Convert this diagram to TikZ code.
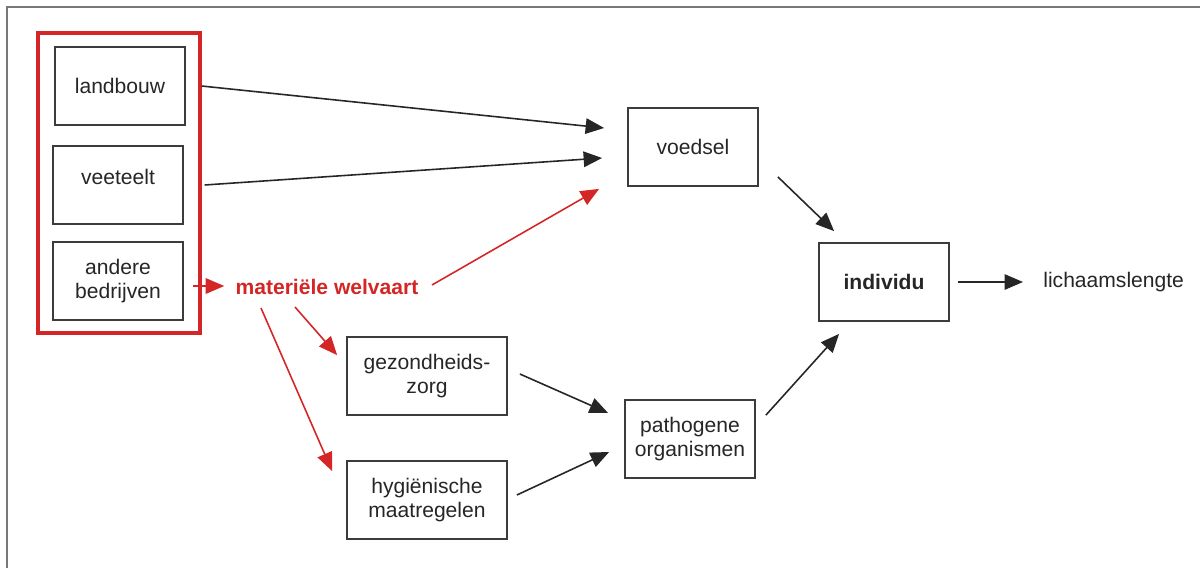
\documentclass[tikz,border=0pt]{standalone}
\usepackage{fontspec}
\setmainfont{Liberation Sans}
\usepackage{xcolor}
\usepackage{tikz}
\usetikzlibrary{arrows.meta,positioning}

\definecolor{welvaartred}{RGB}{212,38,38}
\definecolor{boxgray}{RGB}{60,60,60}
\definecolor{framegray}{RGB}{120,120,120}

\begin{document}
\begin{tikzpicture}[
    x=0.02cm, y=-0.02cm,
    font=\fontsize{12}{13.6}\selectfont,
    box/.style={rectangle, draw=boxgray, line width=1pt, text=black!85, align=center, minimum width=2.6cm, minimum height=1.56cm, inner sep=0pt},
    group/.style={rectangle, draw=welvaartred, line width=1.8pt, minimum width=3.24cm, minimum height=6cm},
    conn/.style={color=black!85, line width=0.9pt, -{Triangle[length=0.37cm, width=0.31cm]}},
    redconn/.style={conn, color=welvaartred}
]

\useasboundingbox (0,0) rectangle (1200,568);
\draw[framegray, line width=1.2pt] (7,568) -- (7,7) -- (1200,7);

\node[group] (sectors) at (119,183) {};
\node[box] (landbouw) at (120,86) {landbouw};
\node[box] (veeteelt) at (118,185) {\raisebox{9pt}{veeteelt}};
\node[box] (andere) at (118,281) {andere\\bedrijven};

\node[inner sep=0pt, text=welvaartred, font=\fontsize{12}{13.6}\selectfont\bfseries] (welvaart) at (327,287) {materiële welvaart};

\node[box, minimum width=3.2cm] (gezondheid) at (427,376) {gezondheids-\\zorg};
\node[box, minimum width=3.2cm] (hygiene) at (427,500) {hygiënische\\maatregelen};

\node[box] (voedsel) at (693,147) {voedsel};
\node[box] (pathogeen) at (690,439) {pathogene\\organismen};

\node[box, font=\fontsize{12}{13.6}\selectfont\bfseries] (individu) at (884,282) {individu};
\node[inner sep=0pt, anchor=west, text=black!85] (lengte) at (1043,282) {lichaamslengte};

\draw[conn] (landbouw.east -| sectors.east) -- ([shift={(-23,-19)}]voedsel.west);
\draw[conn] ([shift={(3,0)}]veeteelt.east -| sectors.east) -- ([shift={(-25,11)}]voedsel.west);

\draw[redconn] ([shift={(9,5)}]andere.east) -- ([shift={(-11,-1)}]welvaart.west);
\draw[redconn] ([shift={(105,-2)}]welvaart.center) -- ([shift={(-28,2)}]voedsel.south west);
\draw[redconn] ([shift={(-32,20)}]welvaart.center) -- ([shift={(-9,19)}]gezondheid.north west);
\draw[redconn] ([shift={(-66,21)}]welvaart.center) -- ([shift={(-14,11)}]hygiene.north west);

\draw[conn] ([shift={(12,-2)}]gezondheid.east) -- ([shift={(-16,-26)}]pathogeen.west);
\draw[conn] ([shift={(9,-5)}]hygiene.east) -- ([shift={(-15,13)}]pathogeen.west);

\draw[conn] ([shift={(19,-10)}]voedsel.south east) -- ([shift={(16,-11)}]individu.north west);
\draw[conn] ([shift={(10,16)}]pathogeen.north east) -- ([shift={(21,12)}]individu.south west);
\draw[conn] ([shift={(8,0)}]individu.east) -- ([shift={(-20,0)}]lengte.west);

\end{tikzpicture}
\end{document}
